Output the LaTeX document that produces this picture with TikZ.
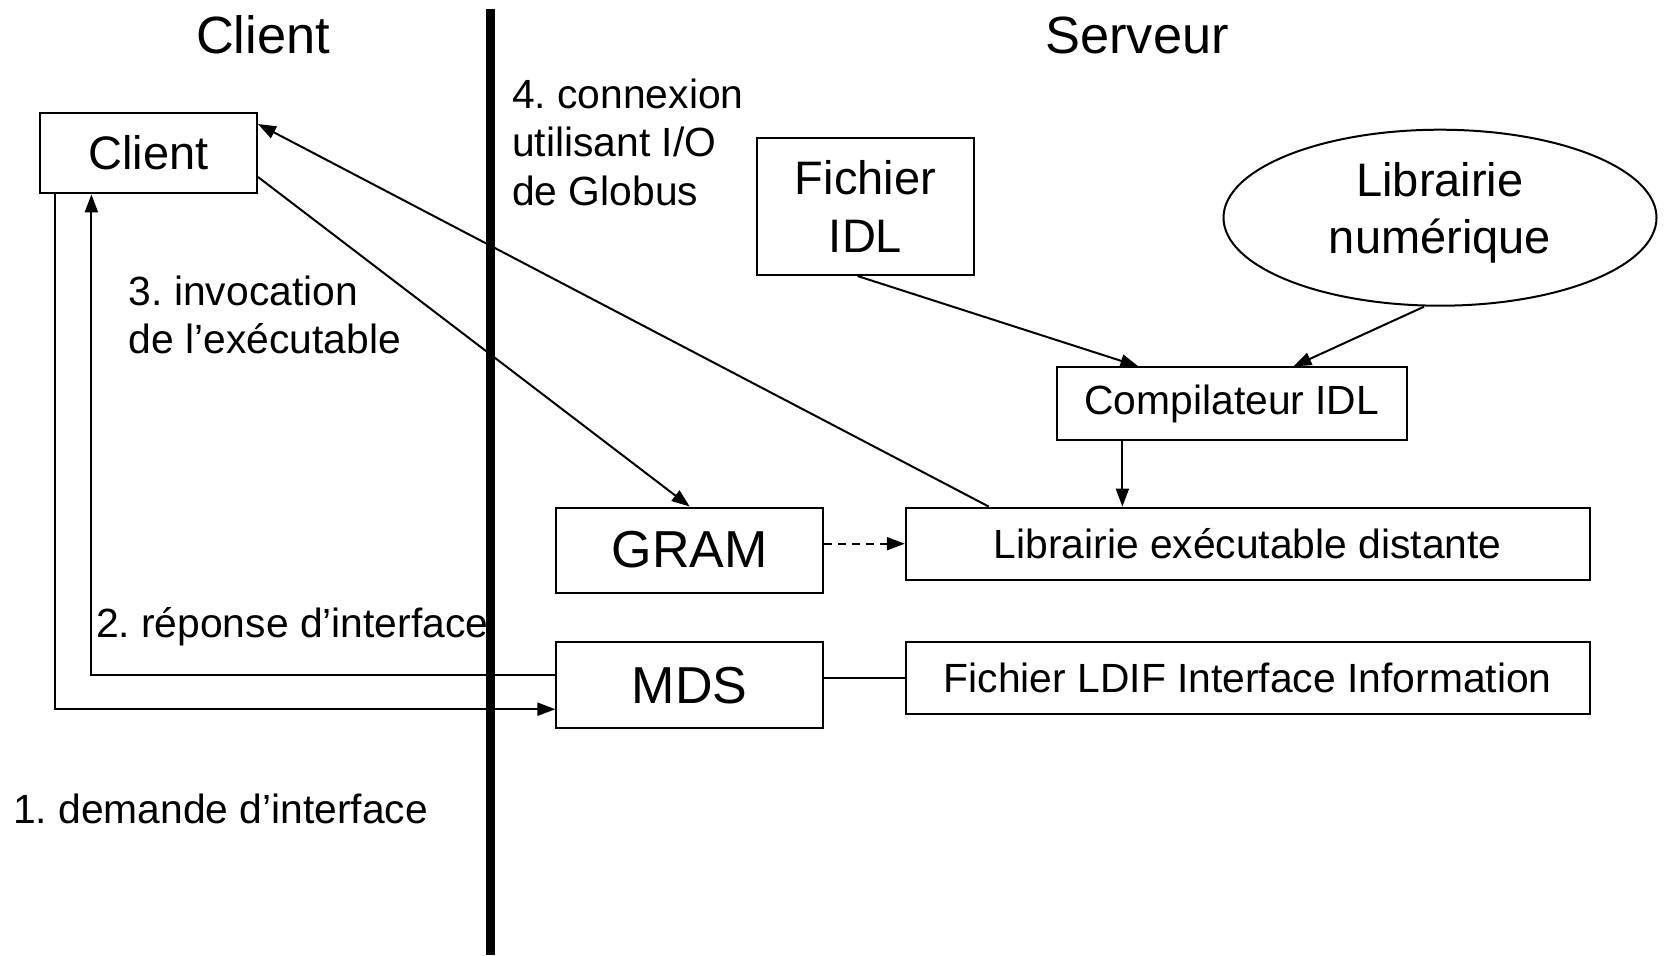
\documentclass[tikz,border=0pt]{standalone}
\usepackage{fontspec}
\setmainfont{Liberation Sans}
\usetikzlibrary{positioning,calc,arrows.meta,shapes.geometric}
\frenchspacing

\begin{document}
\begin{tikzpicture}[
  x=0.5pt, y=-0.5pt,
  box/.style={draw, line width=1pt, inner sep=0pt, align=center},
  head/.style={inner sep=0pt, font=\fontsize{26.2}{30}\selectfont},
  big/.style={font=\fontsize{26}{30}\selectfont},
  mid/.style={font=\fontsize{23.5}{28.7}\selectfont},
  small/.style={font=\fontsize{20.4}{24.4}\selectfont},
  note/.style={anchor=west, align=left, inner sep=0pt, font=\fontsize{20.4}{24.4}\selectfont},
  flow/.style={-{Triangle[length=9pt,width=6.5pt]}, line width=1pt}
]
\useasboundingbox (0,0) rectangle (1665,955);

% separation client / serveur
\draw[line width=4.25pt] (490.6,8.5) -- (490.6,955);

\node[head] (hclient) at (263,35) {Client};
\node[head] (hserveur) at (1137,35) {Serveur};

\node[box, mid, minimum width=108.3pt, minimum height=40.4pt] (client) at (148.7,153) {Client};
\node[box, mid, minimum width=108.3pt, minimum height=68.5pt] (fichier) at (865.5,206.5) {Fichier\\IDL};
\node[ellipse, draw, line width=1pt, mid, minimum width=216.5pt, minimum height=88pt, inner sep=0pt, align=center, text depth=9.5pt] (numlib) at (1440,217.7) {Librairie\\numérique};
\node[box, small, minimum width=175.2pt, minimum height=36.1pt] (compil) at (1231.8,403.5) {Compilateur IDL};
\node[box, big, minimum width=133.3pt, minimum height=42.5pt] (gram) at (689.7,550) {GRAM};
\node[box, small, minimum width=341.9pt, minimum height=36.1pt] (remote) at (1247.7,543.7) {Librairie exécutable distante};
\node[box, big, minimum width=133.3pt, minimum height=43pt, below=23.85pt of gram] (mds) {MDS};
\node[box, small, minimum width=341.9pt, minimum height=35.6pt, below=30.25pt of remote] (ldif) {Fichier LDIF Interface Information};

% etapes
\node[note] (step1) at (12.7,809.2) {1. demande d’interface};
\node[note] (step2) at (95.6,626.5) {2. réponse d’interface};
\node[note] (step3) at (128.5,314.9) {3. invocation\\de l’exécutable};
\node[note] (step4) at (511.8,142.3) {4. connexion\\utilisant I/O\\de Globus};

\draw[flow] ([xshift=8pt]client.south west) |- ([yshift=-12pt]mds.west);
\draw[flow] ([yshift=5pt]mds.west) -| ([xshift=26pt]client.south west);
\draw[flow] ([yshift=-12pt]client.east) -- (gram.north);
\draw[flow] ([xshift=42pt]remote.north west) -- ([yshift=14.5pt]client.east);
\draw[flow] ([xshift=-4pt]fichier.south) -- ([xshift=-46.7pt]compil.north);
\draw[flow] ([xshift=-8pt]numlib.south) -- ([xshift=30.8pt]compil.north);
\draw[flow] ([xshift=-54.7pt]compil.south) -- ([xshift=-54.7pt]compil.south |- remote.north);
\draw[flow, dash pattern=on 4pt off 3pt] (gram.east |- remote.west) -- (remote.west);
\draw[line width=1pt] (mds.east |- ldif.west) -- (ldif.west);
\end{tikzpicture}
\end{document}
